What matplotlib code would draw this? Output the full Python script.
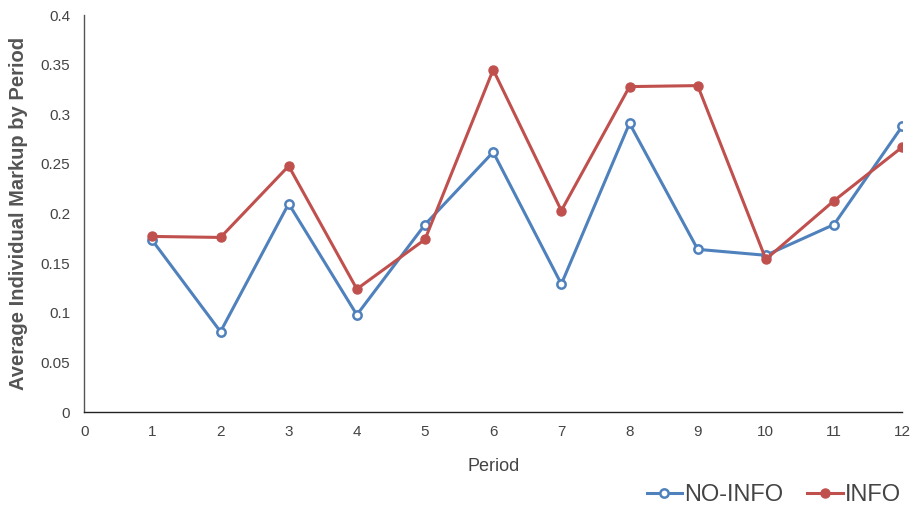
import matplotlib
matplotlib.use("Agg")
from matplotlib import pyplot as plt

periods = [1, 2, 3, 4, 5, 6, 7, 8, 9, 10, 11, 12]
no_info = [0.173, 0.081, 0.210, 0.098, 0.189, 0.262, 0.129, 0.291, 0.164, 0.158, 0.189, 0.288]
info = [0.177, 0.176, 0.248, 0.124, 0.174, 0.345, 0.203, 0.328, 0.329, 0.154, 0.213, 0.267]

x_ticks = list(range(0, 13))
y_ticks = [0, 0.05, 0.1, 0.15, 0.2, 0.25, 0.3, 0.35, 0.4]
y_labels = ["0", "0.05", "0.1", "0.15", "0.2", "0.25", "0.3", "0.35", "0.4"]

plt.rcParams['font.family'] = ['Liberation Sans', 'DejaVu Sans']

blue = '#4f81bd'
red = '#c0504d'

fig = plt.figure(figsize=(9.15, 5.05), dpi=100)
ax = fig.add_axes([0.092, 0.184, 0.894, 0.786])

ax.plot(periods, no_info, color=blue, lw=2.2, marker='o', markersize=6,
        markerfacecolor='white', markeredgecolor=blue, markeredgewidth=1.8,
        label='NO-INFO')
ax.plot(periods, info, color=red, lw=2.2, marker='o', markersize=6.5,
        markerfacecolor=red, markeredgecolor=red, label='INFO')

ax.set_xlim(0, 12)
ax.set_ylim(0, 0.4)
ax.set_xticks(x_ticks)
ax.set_yticks(y_ticks)
ax.set_yticklabels(y_labels)
ax.tick_params(length=0, labelsize=11, colors='#444444', pad=9)
ax.tick_params(axis='y', pad=10)

for s in ['top', 'right']:
    ax.spines[s].set_visible(False)
ax.spines['left'].set_color('#555555')
ax.spines['bottom'].set_color('#222222')
ax.spines['left'].set_linewidth(1.0)
ax.spines['bottom'].set_linewidth(1.0)

ax.set_xlabel('Period', fontsize=13, color='#444444', labelpad=14)
ax.set_ylabel('Average Individual Markup by Period', fontsize=14.5, color='#555555',
              fontweight='bold', labelpad=9)

leg = fig.legend(loc='lower right', bbox_to_anchor=(1.008, -0.045), ncol=2,
                 frameon=False, fontsize=17, handlelength=1.5, handletextpad=0.1,
                 columnspacing=1.0)
for t in leg.get_texts():
    t.set_color('#444444')

fig.savefig('out.png', dpi=100)
